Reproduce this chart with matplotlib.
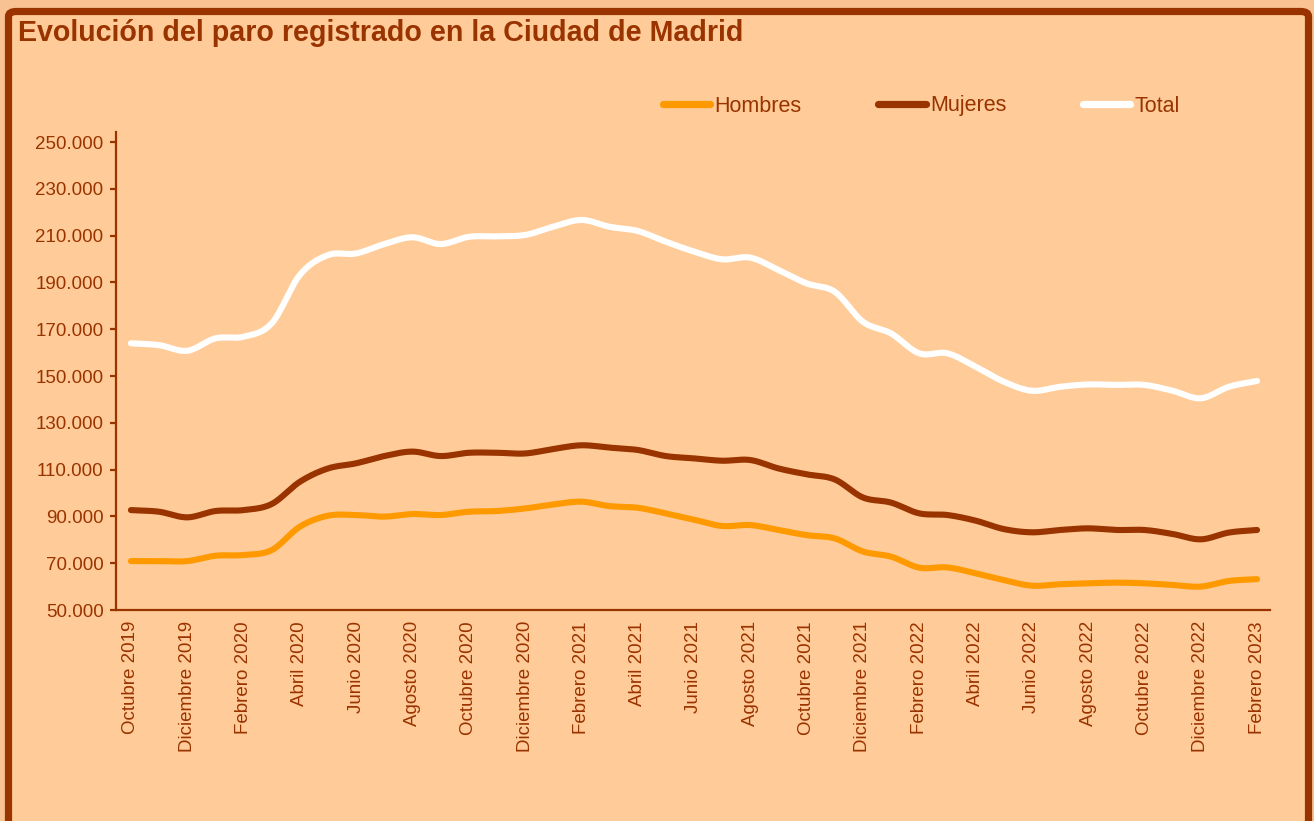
import numpy as np
import matplotlib
matplotlib.use("Agg")
import matplotlib.pyplot as plt
from matplotlib.patches import FancyBboxPatch

plt.rcParams['font.family'] = ['Liberation Sans', 'DejaVu Sans']

# ---------------- data (thousands of registered unemployed) ----------------
months = ["Octubre 2019", "Noviembre 2019", "Diciembre 2019", "Enero 2020", "Febrero 2020",
          "Marzo 2020", "Abril 2020", "Mayo 2020", "Junio 2020", "Julio 2020",
          "Agosto 2020", "Septiembre 2020", "Octubre 2020", "Noviembre 2020",
          "Diciembre 2020", "Enero 2021", "Febrero 2021", "Marzo 2021", "Abril 2021",
          "Mayo 2021", "Junio 2021", "Julio 2021", "Agosto 2021", "Septiembre 2021",
          "Octubre 2021", "Noviembre 2021", "Diciembre 2021", "Enero 2022",
          "Febrero 2022", "Marzo 2022", "Abril 2022", "Mayo 2022", "Junio 2022",
          "Julio 2022", "Agosto 2022", "Septiembre 2022", "Octubre 2022",
          "Noviembre 2022", "Diciembre 2022", "Enero 2023", "Febrero 2023"]

hombres = [70.9, 70.9, 70.9, 73.2, 73.5, 75.6, 85.6, 90.3, 90.6, 89.9,
           91.0, 90.6, 92.0, 92.3, 93.4, 95.1, 96.3, 94.4, 93.7, 91.3,
           88.6, 85.9, 86.3, 84.2, 82.0, 80.6, 75.0, 72.8, 68.1, 68.2,
           65.7, 62.8, 60.4, 61.0, 61.4, 61.7, 61.4, 60.7, 60.0, 62.4, 63.2]

mujeres = [92.7, 92.0, 89.6, 92.3, 92.7, 95.3, 104.8, 110.5, 112.7, 115.8,
           117.7, 115.8, 117.2, 117.2, 116.9, 118.8, 120.4, 119.4, 118.4, 115.8,
           114.8, 113.8, 114.1, 110.5, 108.0, 105.8, 98.1, 95.9, 91.3, 90.6,
           88.2, 84.6, 83.2, 84.2, 84.9, 84.2, 84.2, 82.5, 80.2, 83.1, 84.2]

total = [164.0, 163.2, 160.8, 166.1, 166.8, 172.5, 193.2, 201.7, 202.4, 206.4,
         209.3, 206.4, 209.5, 209.7, 210.3, 213.8, 216.7, 213.8, 212.0, 207.4,
         203.2, 199.9, 200.6, 195.3, 189.6, 186.0, 173.2, 168.2, 159.7, 159.7,
         154.0, 147.6, 143.7, 145.4, 146.4, 146.2, 146.2, 143.7, 140.5, 145.4, 147.9]

series_names = ["Hombres", "Mujeres", "Total"]
yticks = [50, 70, 90, 110, 130, 150, 170, 190, 210, 230, 250]
ytick_labels = ["50.000", "70.000", "90.000", "110.000", "130.000", "150.000",
                "170.000", "190.000", "210.000", "230.000", "250.000"]

# ---------------- style ----------------
BROWN = "#993300"
ORANGE = "#FF9900"
FILL = "#FFCC99"
OUTER = "#F8C293"


def smooth(xs, ys, n=24):
    """Catmull-Rom rendering of a polyline (like Excel's smoothed line)."""
    xs = np.asarray(xs, float)
    ys = np.asarray(ys, float)
    px = np.concatenate([[2 * xs[0] - xs[1]], xs, [2 * xs[-1] - xs[-2]]])
    py = np.concatenate([[2 * ys[0] - ys[1]], ys, [2 * ys[-1] - ys[-2]]])
    outx, outy = [], []
    t = np.linspace(0, 1, n, endpoint=False)
    for i in range(1, len(px) - 2):
        for arr, out in ((px, outx), (py, outy)):
            p0, p1, p2, p3 = arr[i - 1], arr[i], arr[i + 1], arr[i + 2]
            out.extend(0.5 * ((2 * p1) + (-p0 + p2) * t
                              + (2 * p0 - 5 * p1 + 4 * p2 - p3) * t ** 2
                              + (-p0 + 3 * p1 - 3 * p2 + p3) * t ** 3))
    outx.append(xs[-1])
    outy.append(ys[-1])
    return np.array(outx), np.array(outy)


W, H = 1314, 821
fig = plt.figure(figsize=(W / 100, H / 100), dpi=100)
fig.patch.set_facecolor(OUTER)

# frame
frame = FancyBboxPatch((8.5 / W, -0.05), (1308.5 - 8.5) / W, (H - 11.5) / H + 0.05,
                       boxstyle="round,pad=0,rounding_size=0.006",
                       transform=fig.transFigure, facecolor=FILL,
                       edgecolor=BROWN, linewidth=5.2, zorder=-5)
fig.patches.append(frame)

fig.text(18 / W, 1 - 33 / H, "Evolución del paro registrado en la Ciudad de Madrid",
         color=BROWN, fontsize=20.6, fontweight="bold", ha="left", va="center",
         zorder=5)

ax = fig.add_axes([116 / W, 1 - 610 / H, (1270 - 116) / W, (610 - 132) / H])
ax.set_zorder(2)
ax.set_facecolor("none")

x = np.arange(len(months))
colors = [ORANGE, BROWN, "white"]
handles = []
for name, vals, col in zip(series_names, [hombres, mujeres, total], colors):
    sx, sy = smooth(x, vals)
    ln, = ax.plot(sx, sy, color=col, lw=4.4, solid_capstyle="round",
                  solid_joinstyle="round", label=name)
    handles.append(ln)

ax.set_xlim(-0.53, len(months) - 1 + 0.46)
ax.set_ylim(50, 254.3)
ax.set_yticks(yticks)
ax.set_yticklabels(ytick_labels)
ax.set_xticks(x[::2])
ax.set_xticklabels(months[::2], rotation=90)

for s in ["top", "right"]:
    ax.spines[s].set_visible(False)
for s in ["left", "bottom"]:
    ax.spines[s].set_color(BROWN)
    ax.spines[s].set_linewidth(1.6)
ax.tick_params(axis="y", direction="out", length=4, width=1.6, color=BROWN,
               labelcolor=BROWN, labelsize=13.5, pad=5)
ax.tick_params(axis="x", length=0, labelcolor=BROWN, labelsize=13.5, pad=8)

leg = fig.legend(handles=handles, loc="center left",
                 bbox_to_anchor=(663 / W, 1 - 106 / H), ncol=3, frameon=False,
                 fontsize=15.5, handlelength=2.2, handletextpad=0.2,
                 columnspacing=3.55, borderaxespad=0, borderpad=0)
leg.set_zorder(5)
for t in leg.get_texts():
    t.set_color(BROWN)
for lh in leg.get_lines():
    lh.set_linewidth(5.2)
    lh.set_solid_capstyle("round")

fig.savefig("out.png", dpi=100, facecolor=fig.get_facecolor())
